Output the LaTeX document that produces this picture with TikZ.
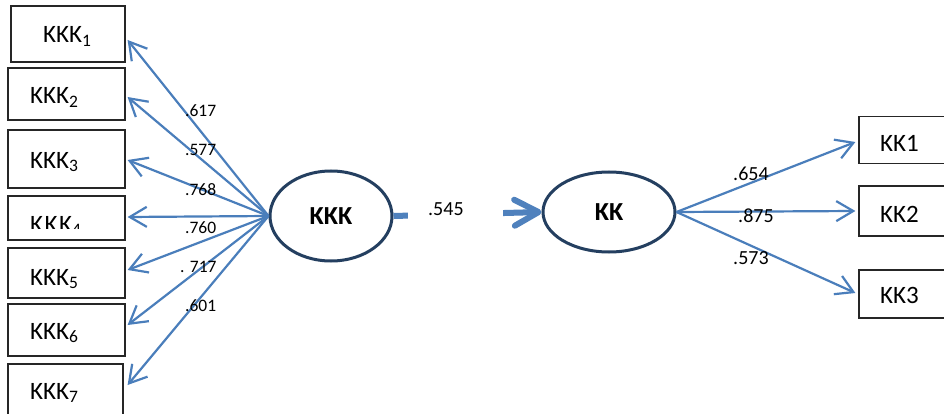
\documentclass[tikz,border=0pt]{standalone}
\usepackage{fontspec}
\setmainfont{Carlito}
\usetikzlibrary{arrows.meta,shapes.geometric,calc}
\definecolor{arrblue}{HTML}{4A7EBB}
\definecolor{thickblue}{HTML}{4F81BD}
\definecolor{navy}{HTML}{243F60}
\tikzset{
  box/.style={draw=black!85, line width=1.2pt, rectangle, inner sep=0pt},
  lat/.style={draw=navy, line width=3pt, ellipse, inner sep=0pt, font=\fontsize{26}{30}\selectfont\bfseries},
  arr/.style={draw=arrblue, line width=2.2pt, -{Straight Barb[length=17pt,width=20pt]}},
  bigarr/.style={draw=thickblue, line width=6pt, -{Straight Barb[length=24pt,width=26pt,round]}},
  boxtxt/.style={anchor=base west, inner sep=0pt, font=\fontsize{25}{30}\selectfont},
  lbl/.style={anchor=base west, inner sep=0pt, font=\fontsize{17.5}{20}\selectfont},
  rlbl/.style={anchor=base west, inner sep=0pt, font=\fontsize{20}{24}\selectfont},
}
\begin{document}
\begin{tikzpicture}[x=1pt,y=-1pt]
\useasboundingbox[fill=white] (0,0) rectangle (944,414);
% left boxes
\node[box, minimum width=114pt, minimum height=56pt] (k1) at (68,34) {};
\node[box, minimum width=117pt, minimum height=52pt] (k2) at (66.5,94) {};
\node[box, minimum width=117pt, minimum height=58pt] (k3) at (66.5,159) {};
\node[box, minimum width=117pt, minimum height=44pt] (k4) at (66.5,218) {};
\node[box, minimum width=117pt, minimum height=50pt] (k5) at (66.5,273) {};
\node[box, minimum width=117pt, minimum height=52pt] (k6) at (66.5,330) {};
\node[box, minimum width=115pt, minimum height=66pt] (k7) at (65.5,397) {};
\node[boxtxt] (t1) at (43,43) {KKK\textsubscript{1}};
\node[boxtxt] (t2) at (30,104) {KKK\textsubscript{2}};
\node[boxtxt] (t3) at (30,168) {KKK\textsubscript{3}};
\begin{scope}
\clip (10,198) rectangle (124,228);
\node[boxtxt] (t4) at (30,232) {K\kern1.5pt K\kern1.5pt K\textsubscript{4}};
\end{scope}
\node[boxtxt] (t5) at (30,285) {KKK\textsubscript{5}};
\node[boxtxt] (t6) at (30,339) {KKK\textsubscript{6}};
\node[boxtxt] (t7) at (30,399) {KKK\textsubscript{7}};
% right boxes
\node[box, minimum width=100pt, minimum height=47pt] (r1) at (909,140) {};
\node[box, minimum width=100pt, minimum height=50pt] (r2) at (909,211) {};
\node[box, minimum width=100pt, minimum height=48pt] (r3) at (909,294) {};
\node[boxtxt] (u1) at (880,152) {KK1};
\node[boxtxt] (u2) at (880,222) {KK2};
\node[boxtxt] (u3) at (880,303) {KK3};
% latent
\node[lat, minimum width=122pt, minimum height=90pt] (KKK) at (331,216) {KKK};
\node[lat, minimum width=132pt, minimum height=80pt] (KK) at (609,212) {KK};
% left arrows
\draw[arr] (KKK.west) -- ($(k1.east)+(2,6)$);
\draw[arr] (KKK.west) -- ($(k2.east)+(2,3)$);
\draw[arr] (KKK.west) -- ($(k3.east)+(2,1)$);
\draw[arr] (KKK.west) -- ($(k4.east)+(2,-1)$);
\draw[arr] (KKK.west) -- ($(k5.east)+(2,-3)$);
\draw[arr] (KKK.west) -- ($(k6.east)+(2,-5)$);
\draw[arr] (KKK.west) -- ($(k7.east)+(4,-12)$);
\node[lbl] at (185,117) {.617};
\node[lbl] at (185,156) {.577};
\node[lbl] at (185,195) {.768};
\node[lbl] at (185,233) {.760};
\node[lbl] at (180,272) {. 717};
\node[lbl] at (185,311) {.601};
% right arrows
\draw[arr] (KK.east) -- ($(r1.west)+(-3,2)$);
\draw[arr] (KK.east) -- ($(r2.west)+(-3,0)$);
\draw[arr] (KK.east) -- ($(r3.west)+(-3,-1)$);
\node[rlbl] at (733,180) {.654};
\node[rlbl] at (738,222) {.875};
\node[rlbl] at (733,264) {.573};
% structural path
\draw[bigarr] (KKK.east) -- node[pos=0.42, fill=white, minimum width=95pt, minimum height=20pt, inner sep=0pt] (p) {} (KK.west);
\node[rlbl] at (428,215) {.545};
\end{tikzpicture}
\end{document}
